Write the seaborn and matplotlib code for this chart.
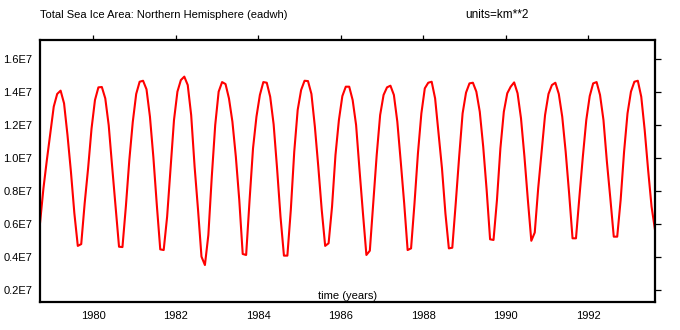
import matplotlib
matplotlib.use("Agg")
import matplotlib.pyplot as plt
import numpy as np
import pandas as pd
import seaborn as sns
from matplotlib.ticker import FixedLocator, FuncFormatter

# Monthly mean total sea ice area, Northern Hemisphere, in units of 1E7 km**2.
# The record starts in September 1978 and ends in August 1993.
start_year = 1978
start_month = 9
area_1978 = [0.606, 0.818, 0.990, 1.152]
area_1979 = [1.313, 1.390, 1.410, 1.333, 1.141, 0.919, 0.667, 0.469, 0.480, 0.727, 0.939, 1.180]
area_1980 = [1.353, 1.430, 1.432, 1.363, 1.200, 0.949, 0.707, 0.464, 0.462, 0.710, 0.990, 1.220]
area_1981 = [1.390, 1.464, 1.470, 1.418, 1.252, 1.006, 0.717, 0.448, 0.444, 0.646, 0.939, 1.232]
area_1982 = [1.404, 1.474, 1.495, 1.444, 1.262, 0.949, 0.687, 0.404, 0.353, 0.535, 0.889, 1.202]
area_1983 = [1.404, 1.462, 1.450, 1.363, 1.222, 1.010, 0.747, 0.420, 0.414, 0.747, 1.060, 1.252]
area_1984 = [1.384, 1.462, 1.458, 1.373, 1.206, 0.939, 0.646, 0.410, 0.410, 0.687, 1.040, 1.293]
area_1985 = [1.414, 1.470, 1.468, 1.390, 1.192, 0.949, 0.687, 0.469, 0.485, 0.707, 1.020, 1.232]
area_1986 = [1.377, 1.434, 1.434, 1.353, 1.202, 0.929, 0.666, 0.414, 0.440, 0.727, 1.020, 1.262]
area_1987 = [1.384, 1.430, 1.440, 1.384, 1.222, 0.979, 0.727, 0.444, 0.454, 0.727, 1.030, 1.272]
area_1988 = [1.424, 1.458, 1.464, 1.363, 1.151, 0.939, 0.666, 0.454, 0.458, 0.727, 1.010, 1.272]
area_1989 = [1.398, 1.454, 1.458, 1.404, 1.282, 1.070, 0.808, 0.509, 0.505, 0.747, 1.060, 1.282]
area_1990 = [1.394, 1.434, 1.460, 1.394, 1.242, 1.010, 0.747, 0.500, 0.550, 0.818, 1.040, 1.262]
area_1991 = [1.390, 1.444, 1.458, 1.390, 1.252, 1.040, 0.788, 0.515, 0.515, 0.767, 1.010, 1.232]
area_1992 = [1.377, 1.454, 1.462, 1.384, 1.232, 0.979, 0.757, 0.525, 0.525, 0.747, 1.040, 1.272]
area_1993 = [1.404, 1.464, 1.470, 1.373, 1.171, 0.929, 0.707, 0.566]

x_ticks = [1980, 1982, 1984, 1986, 1988, 1990, 1992]
y_ticks = [0.2, 0.4, 0.6, 0.8, 1.0, 1.2, 1.4, 1.6]

title_text = "Total Sea Ice Area: Northern Hemisphere (eadwh)"
units_text = "units=km**2"
xlabel_text = "time (years)"

yearly = [area_1978, area_1979, area_1980, area_1981, area_1982, area_1983,
          area_1984, area_1985, area_1986, area_1987, area_1988, area_1989,
          area_1990, area_1991, area_1992, area_1993]

rows = []
for i, values in enumerate(yearly):
    year = start_year + i
    first = start_month if i == 0 else 1
    for j, v in enumerate(values):
        month = first + j
        rows.append({"time": year + (month - 0.5) / 12.0, "area": v * 1e7})
df = pd.DataFrame(rows)

sns.set_style("white")
plt.rcParams["font.family"] = ["Liberation Sans", "DejaVu Sans"]

fig = plt.figure(figsize=(6.8, 3.3), dpi=100)
ax = fig.add_axes([40 / 680, 1 - 302 / 330, 615 / 680, 262 / 330])

sns.lineplot(data=df, x="time", y="area", color="#ff0000", linewidth=1.5, ax=ax)

ax.set_xlim(df["time"].iloc[0], df["time"].iloc[-1])
ax.set_ylim(0.129e7, 1.717e7)

ax.xaxis.set_major_locator(FixedLocator(x_ticks))
ax.xaxis.set_major_formatter(FuncFormatter(lambda v, p: f"{int(round(v))}"))
ax.yaxis.set_major_locator(FixedLocator([t * 1e7 for t in y_ticks]))
ax.yaxis.set_major_formatter(FuncFormatter(lambda v, p: f"{v / 1e7:.1f}E7"))

ax.set_xlabel("")
ax.set_ylabel("")
ax.grid(False)
for s in ax.spines.values():
    s.set_visible(True)
    s.set_linewidth(1.6)
    s.set_color("black")

ax.tick_params(axis="both", which="major", direction="out", top=True, right=True,
               labeltop=False, labelright=False, width=0.9, color="black",
               labelsize=8, labelcolor="black")
ax.tick_params(axis="x", length=3.5, pad=3)
ax.tick_params(axis="y", length=4.5, pad=1)

ax.text(0.5, 0.005, xlabel_text, transform=ax.transAxes, ha="center", va="bottom",
        fontsize=8, color="black")
fig.text(40 / 680, 1 - 15 / 330, title_text, ha="left", va="center", fontsize=8, color="black")
fig.text(465 / 680, 1 - 15 / 330, units_text, ha="left", va="center", fontsize=8.5, color="black")

fig.savefig("out.png", dpi=100, facecolor="white")
